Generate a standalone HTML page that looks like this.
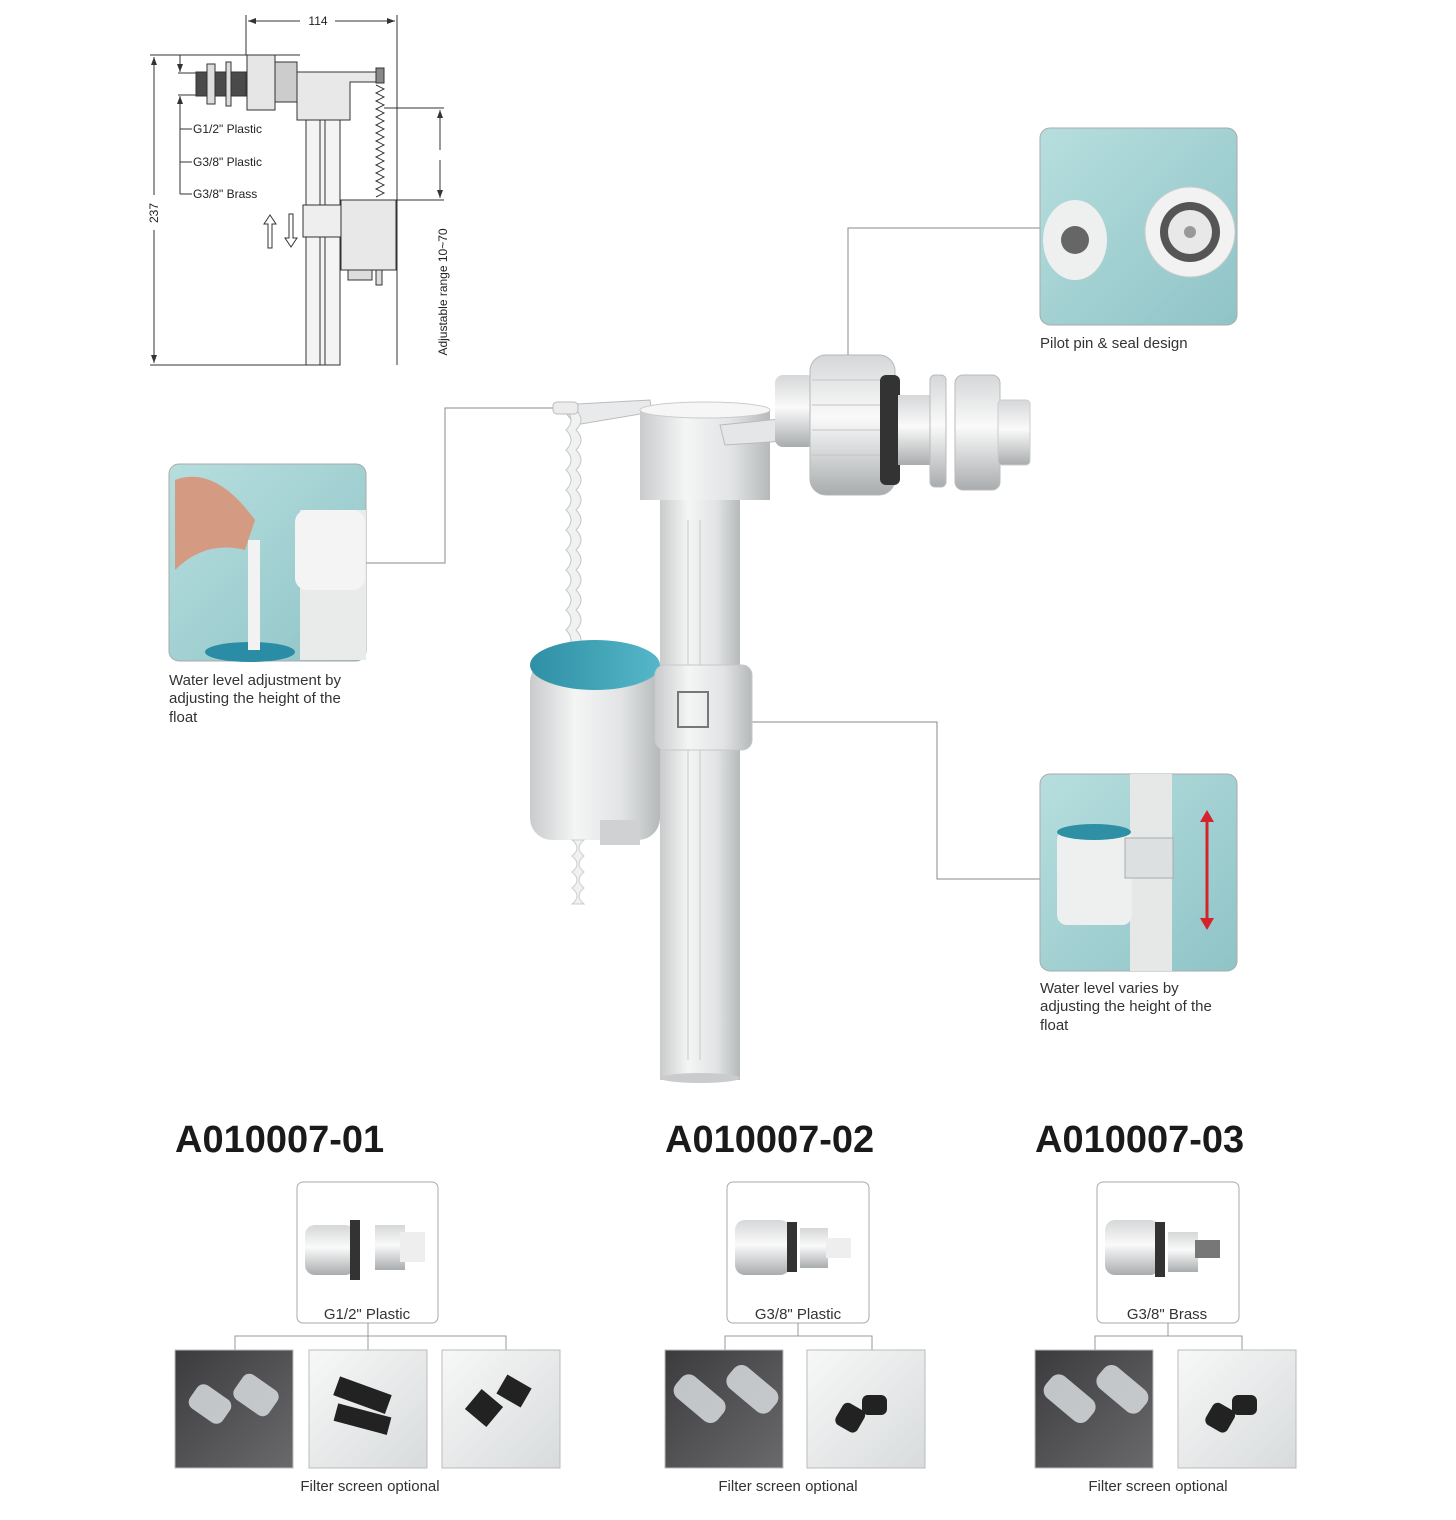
<!DOCTYPE html>
<html><head><meta charset="utf-8"><style>
body{margin:0;background:#fff;}
svg{display:block;font-family:"Liberation Sans",sans-serif;}
</style></head><body>
<svg width="1456" height="1520" viewBox="0 0 1456 1520" xmlns="http://www.w3.org/2000/svg">
<defs>
<linearGradient id="tube" x1="0" x2="1"><stop offset="0" stop-color="#c9cbcc"/><stop offset="0.35" stop-color="#f4f5f5"/><stop offset="0.7" stop-color="#e2e4e5"/><stop offset="1" stop-color="#b6b9ba"/></linearGradient>
<linearGradient id="nut" x1="0" x2="1"><stop offset="0" stop-color="#c4c7c8"/><stop offset="0.5" stop-color="#f2f3f3"/><stop offset="1" stop-color="#b9bcbd"/></linearGradient>
<linearGradient id="nutv" x1="0" y1="0" x2="0" y2="1"><stop offset="0" stop-color="#d5d7d8"/><stop offset="0.45" stop-color="#fafafa"/><stop offset="1" stop-color="#a9acae"/></linearGradient>
<linearGradient id="teal" x1="0" x2="1"><stop offset="0" stop-color="#2f8fa5"/><stop offset="1" stop-color="#55b7c9"/></linearGradient>
<linearGradient id="photo" x1="0" y1="0" x2="1" y2="1"><stop offset="0" stop-color="#b7dede"/><stop offset="1" stop-color="#8fc4c7"/></linearGradient>
<linearGradient id="dark" x1="0" y1="0" x2="1" y2="1"><stop offset="0" stop-color="#3b3b3d"/><stop offset="1" stop-color="#6a6a6c"/></linearGradient>
<linearGradient id="light" x1="0" y1="0" x2="1" y2="1"><stop offset="0" stop-color="#f7f8f8"/><stop offset="1" stop-color="#d8dbdc"/></linearGradient>
<marker id="ar" markerWidth="8" markerHeight="6" refX="8" refY="3" orient="auto"><path d="M0,0 L8,3 L0,6 z" fill="#333"/></marker>
</defs>

<!-- ===== technical drawing ===== -->
<g stroke="#333" stroke-width="1" fill="none">
<line x1="246" y1="15" x2="246" y2="55"/><line x1="397" y1="15" x2="397" y2="365"/>
<line x1="300" y1="21" x2="248" y2="21" marker-end="url(#ar)"/><line x1="335" y1="21" x2="395" y2="21" marker-end="url(#ar)"/>
<line x1="150" y1="55" x2="300" y2="55"/><line x1="150" y1="365" x2="340" y2="365"/>
<line x1="154" y1="195" x2="154" y2="57" marker-end="url(#ar)"/><line x1="154" y1="230" x2="154" y2="363" marker-end="url(#ar)"/>
<line x1="178" y1="73" x2="196" y2="73"/><line x1="178" y1="95" x2="196" y2="95"/>
<line x1="180" y1="55" x2="180" y2="72" marker-end="url(#ar)"/><line x1="180" y1="194" x2="180" y2="96" marker-end="url(#ar)"/>
<line x1="180" y1="129" x2="192" y2="129"/><line x1="180" y1="162" x2="192" y2="162"/><line x1="180" y1="194" x2="192" y2="194"/>
<line x1="384" y1="108" x2="444" y2="108"/><line x1="396" y1="200" x2="444" y2="200"/>
<line x1="440" y1="150" x2="440" y2="110" marker-end="url(#ar)"/><line x1="440" y1="160" x2="440" y2="198" marker-end="url(#ar)"/>
</g>
<text x="318" y="25" font-size="12" text-anchor="middle" fill="#222">114</text>
<text transform="translate(158,213) rotate(-90)" font-size="12" text-anchor="middle" fill="#222">237</text>
<text transform="translate(447,292) rotate(-90)" font-size="12" text-anchor="middle" fill="#222">Adjustable range 10~70</text>
<text x="193" y="133" font-size="12" fill="#222">G1/2" Plastic</text>
<text x="193" y="166" font-size="12" fill="#222">G3/8" Plastic</text>
<text x="193" y="198" font-size="12" fill="#222">G3/8" Brass</text>
<g stroke="#333" stroke-width="1">
<rect x="196" y="72" width="50" height="24" fill="#4a4a4a"/>
<rect x="207" y="64" width="8" height="40" fill="#ddd"/><rect x="226" y="62" width="5" height="44" fill="#ddd"/>
<rect x="247" y="55" width="28" height="55" fill="#e6e6e6"/>
<rect x="275" y="62" width="22" height="40" fill="#ccc"/>
<path d="M297,72 L380,72 L380,82 L350,82 L350,120 L297,120 z" fill="#e8e8e8"/>
<rect x="306" y="120" width="34" height="245" fill="#f4f4f4"/>
<line x1="320" y1="120" x2="320" y2="365"/><line x1="325" y1="120" x2="325" y2="365"/>
<rect x="303" y="205" width="38" height="32" fill="#eee"/>
<rect x="341" y="200" width="55" height="70" fill="#e8e8e8"/>
<rect x="348" y="270" width="24" height="10" fill="#ddd"/>
<rect x="376" y="68" width="8" height="15" fill="#888"/>
<path d="M376,85 l8,4 l-8,4 l8,4 l-8,4 l8,4 l-8,4 l8,4 l-8,4 l8,4 l-8,4 l8,4 l-8,4 l8,4 l-8,4 l8,4 l-8,4 l8,4 l-8,4 l8,4 l-8,4 l8,4 l-8,4 l8,4 l-8,4 l8,4 l-8,4 l8,4 l-8,4" fill="none"/>
<rect x="376" y="270" width="6" height="15" fill="#ddd"/>
<path d="M268,248 v-24 h-4 l6,-9 l6,9 h-4 v24z" fill="#fff"/>
<path d="M289,214 v24 h-4 l6,9 l6,-9 h-4 v-24z" fill="#fff"/>
</g>

<!-- ===== leader lines ===== -->
<g stroke="#8a8a8a" stroke-width="1" fill="none">
<polyline points="848,390 848,228 1040,228"/>
<polyline points="560,408 445,408 445,563 366,563"/>
<polyline points="690,722 937,722 937,879 1040,879"/>
</g>

<!-- ===== main product ===== -->
<g>
<rect x="660" y="495" width="80" height="585" fill="url(#tube)"/>
<ellipse cx="700" cy="1078" rx="40" ry="5" fill="#c9cbcc"/>
<g stroke="#c5c8c9" stroke-width="1">
<line x1="688" y1="520" x2="688" y2="1060"/><line x1="700" y1="520" x2="700" y2="1060"/>
</g>
<path d="M560,405 L650,400 L652,412 L575,425 z" fill="#e9eaeb" stroke="#bbb"/>
<path d="M566,410 q10,10 0,20 q10,10 0,20 q10,10 0,20 q10,10 0,20 q10,10 0,20 q10,10 0,20 q10,10 0,20 q10,10 0,20 q10,10 0,20 q10,10 0,20 q10,10 0,20 q10,10 0,20 l10,0 q10,-10 0,-20 q10,-10 0,-20 q10,-10 0,-20 q10,-10 0,-20 q10,-10 0,-20 q10,-10 0,-20 q10,-10 0,-20 q10,-10 0,-20 q10,-10 0,-20 q10,-10 0,-20 q10,-10 0,-20 q10,-10 0,-20 z" fill="#f0f1f1" stroke="#c4c6c7"/>
<rect x="553" y="402" width="25" height="12" rx="4" fill="#ececec" stroke="#bbb"/>
<rect x="640" y="410" width="130" height="90" fill="url(#tube)"/>
<ellipse cx="705" cy="410" rx="65" ry="8" fill="#f6f6f6" stroke="#ccc"/>
<path d="M720,425 L790,418 L800,440 L725,445z" fill="#e4e6e7" stroke="#bbb"/>
<rect x="775" y="375" width="40" height="72" rx="8" fill="url(#nutv)"/>
<rect x="810" y="355" width="85" height="140" rx="16" fill="url(#nutv)" stroke="#b5b8b9"/>
<g stroke="#c2c5c6"><line x1="812" y1="380" x2="893" y2="380"/><line x1="812" y1="405" x2="893" y2="405"/><line x1="812" y1="430" x2="893" y2="430"/><line x1="812" y1="455" x2="893" y2="455"/><line x1="812" y1="475" x2="893" y2="475"/></g>
<rect x="880" y="375" width="20" height="110" rx="6" fill="#333"/>
<rect x="898" y="395" width="40" height="70" fill="url(#nutv)"/>
<rect x="930" y="375" width="16" height="112" rx="5" fill="url(#nutv)" stroke="#bbb"/>
<rect x="955" y="375" width="45" height="115" rx="8" fill="url(#nutv)" stroke="#bbb"/>
<rect x="998" y="400" width="32" height="65" rx="4" fill="url(#nutv)" stroke="#ccc"/>
<rect x="530" y="660" width="130" height="180" rx="22" fill="url(#tube)"/>
<ellipse cx="595" cy="665" rx="65" ry="25" fill="url(#teal)"/>
<rect x="600" y="820" width="40" height="25" fill="#cfd1d2"/>
<path d="M572,840 q10,8 0,16 q10,8 0,16 q10,8 0,16 q10,8 0,16 l12,0 q-10,-8 0,-16 q-10,-8 0,-16 q-10,-8 0,-16 q-10,-8 0,-16z" fill="#f0f1f1" stroke="#ccc"/>
<rect x="655" y="665" width="97" height="85" rx="10" fill="url(#tube)" stroke="#c5c8c9"/>
<rect x="678" y="692" width="30" height="35" fill="none" stroke="#777" stroke-width="2"/>
</g>

<!-- ===== callout photos ===== -->
<rect x="1040" y="128" width="197" height="197" rx="10" fill="url(#photo)" stroke="#aaa"/>
<ellipse cx="1075" cy="240" rx="32" ry="40" fill="#eef0f0"/>
<circle cx="1075" cy="240" r="14" fill="#666"/>
<circle cx="1190" cy="232" r="45" fill="#f2f2f2" stroke="#ccc"/>
<circle cx="1190" cy="232" r="30" fill="#555"/>
<circle cx="1190" cy="232" r="22" fill="#e8e8e8"/>
<circle cx="1190" cy="232" r="6" fill="#999"/>
<text x="1040" y="348" font-size="15" fill="#333">Pilot pin &amp; seal design</text>

<rect x="169" y="464" width="197" height="197" rx="10" fill="url(#photo)" stroke="#aaa"/>
<ellipse cx="250" cy="652" rx="45" ry="10" fill="#2b8ca6"/>
<rect x="300" y="510" width="66" height="150" fill="#e9ebeb"/>
<rect x="295" y="510" width="70" height="80" rx="12" fill="#f4f4f4"/>
<path d="M175,480 q40,-15 80,40 l-10,30 q-40,-10 -70,20z" fill="#d49b82"/>
<rect x="248" y="540" width="12" height="110" fill="#f2f2f2"/>
<text font-size="15" fill="#333"><tspan x="169" y="685">Water level adjustment by</tspan><tspan x="169" y="703">adjusting the height of the</tspan><tspan x="169" y="722">float</tspan></text>

<rect x="1040" y="774" width="197" height="197" rx="10" fill="url(#photo)" stroke="#aaa"/>
<rect x="1130" y="774" width="42" height="197" fill="#e6e8e8"/>
<rect x="1057" y="830" width="75" height="95" rx="10" fill="#eef0f0"/>
<ellipse cx="1094" cy="832" rx="37" ry="8" fill="#2f8fa5"/>
<rect x="1125" y="838" width="48" height="40" fill="#dde0e0" stroke="#aaa"/>
<line x1="1207" y1="820" x2="1207" y2="925" stroke="#d4232a" stroke-width="3"/>
<path d="M1200,822 l7,-12 l7,12z M1200,918 l7,12 l7,-12z" fill="#d4232a"/>
<text font-size="15" fill="#333"><tspan x="1040" y="993">Water level varies by</tspan><tspan x="1040" y="1011">adjusting the height of the</tspan><tspan x="1040" y="1030">float</tspan></text>

<!-- ===== bottom groups ===== -->
<g font-weight="bold" font-size="38" fill="#1a1a1a">
<text x="175" y="1152">A010007-01</text>
<text x="665" y="1152">A010007-02</text>
<text x="1035" y="1152">A010007-03</text>
</g>
<g stroke="#aaa" fill="#fff">
<rect x="297" y="1182" width="141" height="141" rx="6"/>
<rect x="727" y="1182" width="142" height="141" rx="6"/>
<rect x="1097" y="1182" width="142" height="141" rx="6"/>
</g>
<g>
<rect x="305" y="1225" width="50" height="50" rx="10" fill="url(#nutv)"/><rect x="350" y="1220" width="10" height="60" fill="#333"/><rect x="375" y="1225" width="30" height="45" fill="url(#nutv)"/><rect x="400" y="1232" width="25" height="30" fill="#eee"/>
<rect x="735" y="1220" width="55" height="55" rx="10" fill="url(#nutv)"/><rect x="787" y="1222" width="10" height="50" fill="#333"/><rect x="800" y="1228" width="28" height="40" fill="url(#nutv)"/><rect x="826" y="1238" width="25" height="20" fill="#eee"/>
<rect x="1105" y="1220" width="55" height="55" rx="10" fill="url(#nutv)"/><rect x="1155" y="1222" width="10" height="55" fill="#333"/><rect x="1168" y="1232" width="30" height="40" fill="url(#nutv)"/><rect x="1195" y="1240" width="25" height="18" fill="#777"/>
</g>
<g font-size="15" fill="#333" text-anchor="middle">
<text x="367" y="1319">G1/2" Plastic</text>
<text x="798" y="1319">G3/8" Plastic</text>
<text x="1167" y="1319">G3/8" Brass</text>
</g>
<g stroke="#999" fill="none">
<polyline points="368,1323 368,1336"/><polyline points="235,1350 235,1336 506,1336 506,1350"/><line x1="368" y1="1336" x2="368" y2="1350"/>
<polyline points="798,1323 798,1336"/><polyline points="725,1350 725,1336 872,1336 872,1350"/>
<polyline points="1168,1323 1168,1336"/><polyline points="1095,1350 1095,1336 1242,1336 1242,1350"/>
</g>
<g stroke="#bbb">
<rect x="175" y="1350" width="118" height="118" fill="url(#dark)"/>
<rect x="309" y="1350" width="118" height="118" fill="url(#light)"/>
<rect x="442" y="1350" width="118" height="118" fill="url(#light)"/>
<rect x="665" y="1350" width="118" height="118" fill="url(#dark)"/>
<rect x="807" y="1350" width="118" height="118" fill="url(#light)"/>
<rect x="1035" y="1350" width="118" height="118" fill="url(#dark)"/>
<rect x="1178" y="1350" width="118" height="118" fill="url(#light)"/>
</g>
<g fill="#d8dcdf" opacity="0.85">
<rect x="190" y="1390" width="40" height="28" rx="8" transform="rotate(35 210 1404)"/><rect x="235" y="1380" width="42" height="30" rx="8" transform="rotate(35 256 1395)"/>
<rect x="672" y="1385" width="55" height="28" rx="10" transform="rotate(40 700 1399)"/><rect x="725" y="1375" width="55" height="28" rx="10" transform="rotate(40 752 1389)"/>
<rect x="1042" y="1385" width="55" height="28" rx="10" transform="rotate(40 1070 1399)"/><rect x="1095" y="1375" width="55" height="28" rx="10" transform="rotate(40 1122 1389)"/>
</g>
<g fill="#222">
<rect x="335" y="1385" width="55" height="20" transform="rotate(20 362 1395)"/><rect x="335" y="1410" width="55" height="18" transform="rotate(15 362 1419)"/>
<rect x="470" y="1395" width="28" height="26" transform="rotate(40 484 1408)"/><rect x="500" y="1380" width="28" height="22" transform="rotate(30 514 1391)"/>
<rect x="838" y="1405" width="25" height="25" rx="6" transform="rotate(30 850 1417)"/><rect x="862" y="1395" width="25" height="20" rx="6"/>
<rect x="1208" y="1405" width="25" height="25" rx="6" transform="rotate(30 1220 1417)"/><rect x="1232" y="1395" width="25" height="20" rx="6"/>
</g>
<g font-size="15" fill="#333" text-anchor="middle">
<text x="370" y="1491">Filter screen optional</text>
<text x="788" y="1491">Filter screen optional</text>
<text x="1158" y="1491">Filter screen optional</text>
</g>
</svg>
</body></html>
